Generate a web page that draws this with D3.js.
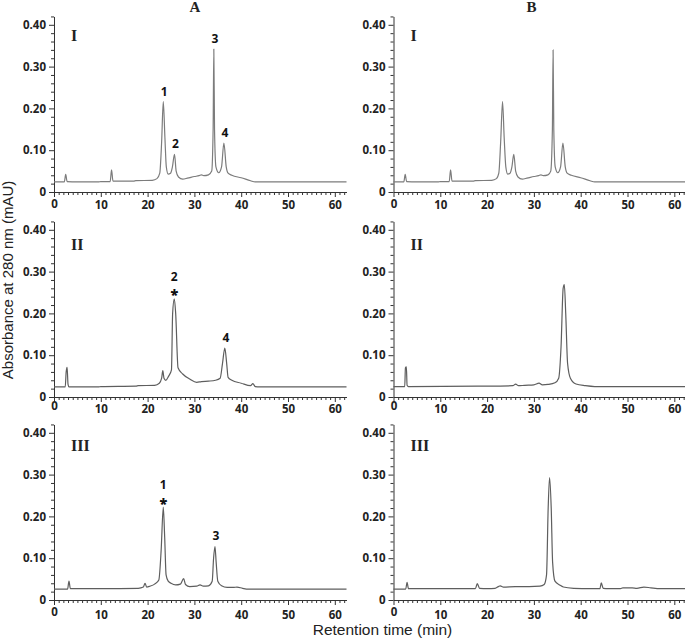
<!DOCTYPE html>
<html><head><meta charset="utf-8">
<script src="https://cdn.jsdelivr.net/npm/d3@7"></script>
<style>
body{margin:0;background:#fff;}
svg{display:block;}
.tick text{font-family:"Open Sans",sans-serif;font-weight:700;font-size:11.5px;fill:#222;}
</style></head>
<body><svg id="c" width="685" height="642"></svg>
<script>
// ---------- data (retention time in min, absorbance) ----------
const columns = ["A", "B"];
const rows = ["I", "II", "III"];
const xTicks = [0, 10, 20, 30, 40, 50, 60];
const yTicks = [0, 0.10, 0.20, 0.30, 0.40];
const yTickLabels = ["0", "0.10", "0.20", "0.30", "0.40"];

const traceAI = [[0,0.024],[2.2,0.024],[2.5,0.042],[2.8,0.025],[5,0.024],[9.5,0.024],[10,0.025],[12,0.025],[12.3,0.053],[12.6,0.026],[17,0.026],[17.5,0.027],[21,0.028],[22,0.032],[22.6,0.045],[23.0,0.12],[23.35,0.216],[23.7,0.13],[24.0,0.06],[24.4,0.043],[24.9,0.045],[25.3,0.06],[25.75,0.090],[26.1,0.05],[26.6,0.036],[27.5,0.031],[28.5,0.033],[30,0.037],[31,0.039],[31.5,0.041],[32,0.039],[33,0.041],[33.7,0.05],[34.0,0.15],[34.15,0.342],[34.3,0.15],[34.6,0.06],[35.2,0.046],[35.8,0.06],[36.3,0.117],[36.8,0.06],[37.2,0.045],[38,0.040],[40,0.034],[42,0.027],[43,0.024],[62.5,0.024]];
const traceBI = [[0,0.024],[2.2,0.024],[2.5,0.042],[2.8,0.025],[5,0.024],[9.5,0.024],[10,0.025],[11.9,0.025],[12.2,0.053],[12.5,0.026],[17,0.026],[17.5,0.027],[21,0.028],[22,0.032],[22.5,0.045],[22.9,0.12],[23.3,0.216],[23.65,0.13],[24.0,0.06],[24.4,0.043],[24.9,0.045],[25.3,0.06],[25.7,0.090],[26.1,0.05],[26.6,0.036],[27.5,0.031],[28.5,0.033],[30,0.037],[31,0.039],[31.5,0.041],[32,0.039],[33,0.041],[33.6,0.05],[33.95,0.15],[34.1,0.340],[34.25,0.15],[34.55,0.06],[35.1,0.046],[35.7,0.06],[36.2,0.117],[36.7,0.06],[37.1,0.045],[38,0.040],[40,0.034],[42,0.027],[43,0.024],[62.5,0.024]];
const traceAII = [[0,0.024],[2.4,0.024],[2.6,0.06],[2.8,0.071],[3.0,0.03],[3.2,0.024],[9.5,0.024],[10,0.025],[17.5,0.026],[18,0.027],[21.5,0.028],[22.5,0.033],[23.0,0.045],[23.25,0.063],[23.5,0.045],[23.9,0.040],[24.5,0.05],[25.1,0.065],[25.35,0.2],[25.7,0.235],[26.0,0.2],[26.5,0.07],[27.5,0.055],[29,0.043],[30.5,0.035],[31.5,0.037],[33,0.038],[34.5,0.040],[35.5,0.045],[36.0,0.08],[36.5,0.117],[36.9,0.08],[37.2,0.047],[38,0.040],[40,0.033],[42,0.027],[42.5,0.032],[43,0.025],[44,0.024],[62.5,0.024]];
const traceBII = [[0,0.025],[2.4,0.025],[2.55,0.07],[2.75,0.072],[2.9,0.028],[3.2,0.025],[18,0.026],[25.5,0.027],[26.1,0.031],[26.7,0.027],[28,0.028],[30,0.029],[31.1,0.033],[31.8,0.029],[33,0.03],[34.5,0.034],[35.3,0.045],[35.8,0.12],[36.25,0.26],[36.5,0.269],[36.8,0.2],[37.2,0.08],[37.8,0.045],[39,0.031],[41,0.027],[43,0.025],[62.5,0.025]];
const traceAIII = [[0,0.026],[2.9,0.026],[3.2,0.045],[3.5,0.027],[10,0.027],[18,0.028],[19.1,0.031],[19.45,0.040],[19.8,0.031],[20.5,0.033],[21.5,0.038],[22.4,0.048],[22.9,0.12],[23.35,0.222],[23.65,0.15],[23.95,0.06],[24.4,0.045],[25,0.040],[26,0.036],[27,0.038],[27.7,0.051],[28.1,0.037],[29,0.032],[30.5,0.033],[31.2,0.036],[31.9,0.033],[33,0.034],[33.8,0.045],[34.1,0.1],[34.4,0.128],[34.65,0.09],[35.0,0.045],[35.8,0.034],[37,0.030],[38.3,0.030],[39.1,0.031],[40.3,0.028],[41.5,0.026],[62.5,0.026]];
const traceBIII = [[0,0.026],[2.6,0.026],[2.9,0.042],[3.2,0.027],[10,0.027],[17.5,0.027],[17.9,0.039],[18.4,0.028],[20,0.027],[21.7,0.028],[22.4,0.032],[22.8,0.034],[23.5,0.031],[26,0.032],[29,0.032],[31.3,0.033],[32.2,0.037],[32.7,0.06],[33.05,0.22],[33.35,0.293],[33.7,0.22],[34.0,0.09],[34.5,0.045],[35.5,0.036],[36.3,0.031],[38.5,0.028],[42,0.027],[44.1,0.027],[44.4,0.041],[44.8,0.028],[46,0.027],[48.5,0.027],[49,0.029],[51,0.029],[52,0.028],[53.5,0.031],[55,0.029],[57,0.027],[62.5,0.027]];

const traces = [traceAI, traceBI, traceAII, traceBII, traceAIII, traceBIII];

// peak annotations: [panel index, time, absorbance, label, star]
const peakLabels = [
  [0, 23.35, 0.216, "1", false],
  [0, 25.75, 0.090, "2", false],
  [0, 34.15, 0.342, "3", false],
  [0, 36.3, 0.117, "4", false],
  [2, 25.7, 0.235, "2", true],
  [2, 36.5, 0.117, "4", false],
  [4, 23.35, 0.222, "1", true],
  [4, 34.4, 0.128, "3", false]
];

// ---------- layout ----------
const svg = d3.select("#c");
const colLeft = [54, 393.5];
const rowZero = [192, 397, 600];
const xMax = 62.5, yMax = 0.42;
const pxPerMin = 4.68, pxPerUnit = 418;
const lineColor = ["#7c7c7c", "#5e5e5e", "#5e5e5e"];
const numeralDy = [16, 20, 18];
const xPad = [4, 3, 6];
const zeroShift = [-1, -3, -3];

rows.forEach((rn, ri) => {
  columns.forEach((cn, ci) => {
    const idx = ri * 2 + ci;
    const x = d3.scaleLinear().domain([0, xMax]).range([colLeft[ci], colLeft[ci] + xMax * pxPerMin]);
    const y = d3.scaleLinear().domain([0, yMax]).range([rowZero[ri], rowZero[ri] - yMax * pxPerUnit]);
    const g = svg.append("g");

    // minor ticks
    const xMinor = d3.range(0, 63, 1).filter(v => v % 10 !== 0);
    g.append("g").attr("transform", `translate(0,${rowZero[ri]})`)
      .call(d3.axisBottom(x).tickValues(xMinor).tickSize(3).tickSizeOuter(0).tickFormat(""))
      .call(a => a.select(".domain").remove())
      .call(a => a.selectAll("line").attr("stroke", "#333"));
    const yMinor = d3.range(0.02, 0.421, 0.02).filter(v => Math.abs(v * 10 - Math.round(v * 10)) > 0.01);
    g.append("g").attr("transform", `translate(${colLeft[ci]},0)`)
      .call(d3.axisLeft(y).tickValues(yMinor).tickSize(3).tickSizeOuter(0).tickFormat(""))
      .call(a => a.select(".domain").remove())
      .call(a => a.selectAll("line").attr("stroke", "#333"));

    // major axes
    g.append("g").attr("transform", `translate(0,${rowZero[ri]})`)
      .call(d3.axisBottom(x).tickValues(xTicks).tickSize(5).tickSizeOuter(0).tickPadding(xPad[ri]))
      .call(a => a.select(".domain").attr("stroke", "#333"))
      .call(a => a.selectAll("line").attr("stroke", "#333"))
      .call(a => a.selectAll(".tick text").filter(d => d === 0)
        .attr("transform", `translate(0,${zeroShift[ri]})`));
    g.append("g").attr("transform", `translate(${colLeft[ci]},0)`)
      .call(d3.axisLeft(y).tickValues(yTicks).tickSize(5).tickSizeOuter(0).tickPadding(3)
        .tickFormat((d, i) => yTickLabels[i]))
      .call(a => a.select(".domain").attr("stroke", "#333"))
      .call(a => a.selectAll("line").attr("stroke", "#333"));

    // trace
    g.append("path").datum(traces[idx])
      .attr("fill", "none").attr("stroke", lineColor[ri]).attr("stroke-width", 1.2)
      .attr("stroke-linejoin", "round")
      .attr("d", d3.line().x(d => x(d[0])).y(d => y(d[1])).curve(d3.curveMonotoneX));

    // roman numeral
    g.append("text").attr("x", colLeft[ci] + 17).attr("y", y(0.40) + numeralDy[ri])
      .attr("font-family", "Liberation Serif, serif").attr("font-weight", 700)
      .attr("font-size", 16).attr("fill", "#222").text(rn);

    // peak labels
    peakLabels.filter(p => p[0] === idx).forEach(p => {
      const px = x(p[1]), py = y(p[2]);
      if (p[4]) {
        g.append("text").attr("x", px).attr("y", py + 1.5).attr("text-anchor", "middle")
          .attr("font-family", "Open Sans, sans-serif").attr("font-weight", 800)
          .attr("font-size", 14.5).attr("fill", "#111").text("*");
        g.append("text").attr("x", px).attr("y", py - 17.8).attr("text-anchor", "middle")
          .attr("font-family", "Open Sans, sans-serif").attr("font-weight", 700)
          .attr("font-size", 12).attr("fill", "#111").text(p[3]);
      } else {
        g.append("text").attr("x", px + 1).attr("y", py - 6).attr("text-anchor", "middle")
          .attr("font-family", "Open Sans, sans-serif").attr("font-weight", 700)
          .attr("font-size", 12).attr("fill", "#111").text(p[3]);
      }
    });

    if (ri === 0) {
      svg.append("text").attr("x", colLeft[ci] + (ci === 0 ? 141 : 138)).attr("y", 12)
        .attr("text-anchor", "middle").attr("font-family", "Liberation Serif, serif")
        .attr("font-weight", 700).attr("font-size", 15).attr("fill", "#222").text(cn);
    }
  });
});

// axis titles
svg.append("text").attr("transform", "translate(13,280) rotate(-90)")
  .attr("text-anchor", "middle").attr("font-family", "Liberation Sans, Arial, sans-serif")
  .attr("font-size", 15).attr("fill", "#222").text("Absorbance at 280 nm (mAU)");
svg.append("text").attr("x", 382.5).attr("y", 635)
  .attr("text-anchor", "middle").attr("font-family", "Liberation Sans, Arial, sans-serif")
  .attr("font-size", 15.5).attr("fill", "#222").text("Retention time (min)");
</script></body></html>
